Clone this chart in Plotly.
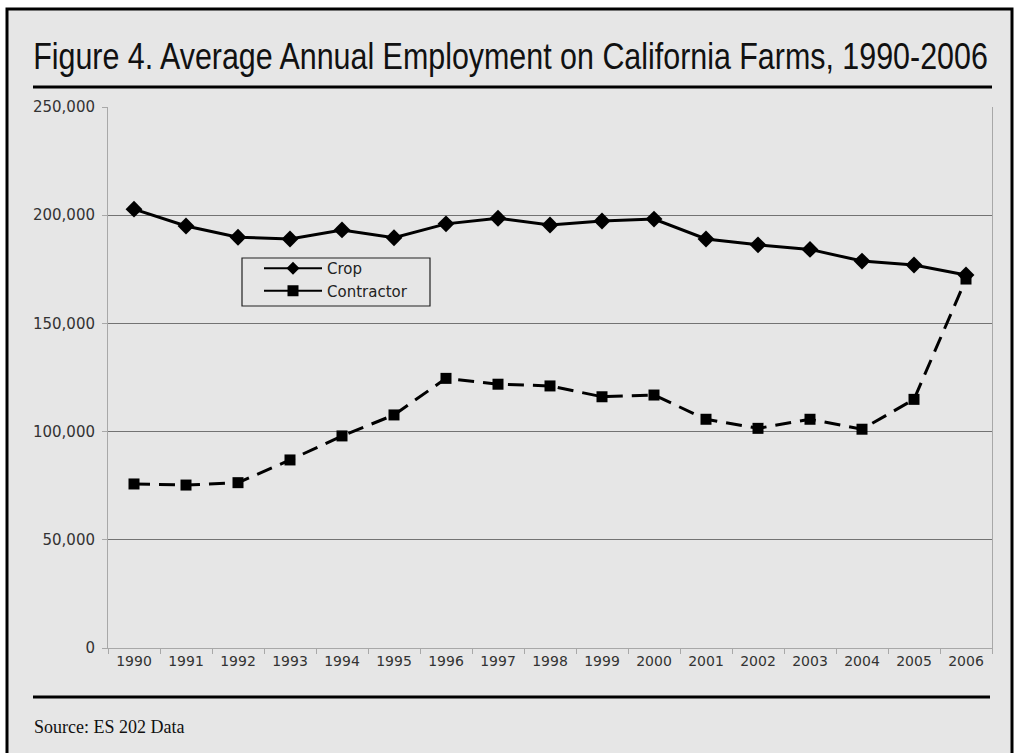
import plotly.graph_objects as go

years = [str(y) for y in range(1990, 2007)]
crop = [202800, 195000, 189800, 189000, 193200, 189600, 196000, 198600, 195500,
        197300, 198200, 189000, 186300, 184200, 178800, 177000, 172400]
contractor = [75800, 75300, 76400, 86900, 98000, 107700, 124600, 121900, 121100,
              116100, 116900, 105700, 101500, 105700, 101100, 114900, 170500]
y_ticks = [0, 50000, 100000, 150000, 200000, 250000]
y_tick_text = ["0", "50,000", "100,000", "150,000", "200,000", "250,000"]

W, H = 1015, 753
L, R, T, B = 108, 992, 107, 648
PW, PH = R - L, B - T


def px(x):
    return (x - L) / PW


def py(y):
    return (B - y) / PH


BG = "#e6e6e6"
fig = go.Figure()
fig.add_trace(go.Scatter(x=years, y=crop, mode="lines+markers", name="Crop",
                         showlegend=False,
                         line=dict(color="black", width=3),
                         marker=dict(symbol="diamond", size=13, color="black")))
fig.add_trace(go.Scatter(x=years, y=contractor, mode="lines+markers", name="Contractor",
                         showlegend=False,
                         line=dict(color="black", width=3, dash="16px,9px"),
                         marker=dict(symbol="square", size=11, color="black")))
# legend entries (solid samples as in the original)
fig.add_trace(go.Scatter(x=[None], y=[None], mode="lines+markers", name="Crop",
                         line=dict(color="black", width=2),
                         marker=dict(symbol="diamond", size=10, color="black")))
fig.add_trace(go.Scatter(x=[None], y=[None], mode="lines+markers", name="Contractor",
                         line=dict(color="black", width=2),
                         marker=dict(symbol="square", size=11, color="black")))

shapes = [
    dict(type="rect", xref="paper", yref="paper", layer="below",
         x0=px(7), x1=px(1012), y0=py(9), y1=py(770),
         fillcolor=BG, line=dict(color="black", width=3)),
    dict(type="line", xref="paper", yref="paper",
         x0=px(33), x1=px(992), y0=py(87), y1=py(87),
         line=dict(color="black", width=3)),
    dict(type="line", xref="paper", yref="paper",
         x0=px(33), x1=px(990), y0=py(697), y1=py(697),
         line=dict(color="black", width=3)),
    dict(type="rect", xref="paper", yref="paper", layer="above",
         x0=px(242), x1=px(430), y0=py(258), y1=py(306),
         fillcolor=BG, line=dict(color="#222222", width=1.2)),
]

TITLE = "Figure 4. Average Annual Employment on California Farms, 1990-2006"
annotations = [
    dict(text=TITLE,
         xref="paper", yref="paper", x=px(31), y=py(57), xanchor="left", yanchor="middle",
         showarrow=False,
         font=dict(family="Liberation Sans, Arial, sans-serif", size=37, color="#111111")),
    dict(text="Source: ES 202 Data", xref="paper", yref="paper",
         x=px(32), y=py(727), xanchor="left", yanchor="middle", showarrow=False,
         font=dict(family="Liberation Serif, Times New Roman, serif", size=18, color="#111111")),
]

fig.update_layout(
    width=W, height=H,
    margin=dict(l=L, r=W - R, t=T, b=H - B, pad=0),
    paper_bgcolor="white", plot_bgcolor=BG,
    shapes=shapes, annotations=annotations,
    font=dict(family="DejaVu Sans, Verdana, sans-serif", size=14, color="#333333"),
    showlegend=True,
    legend=dict(x=px(259), y=py(252), xanchor="left", yanchor="top",
                bgcolor="rgba(0,0,0,0)", borderwidth=0,
                font=dict(size=15, color="#222222"), itemwidth=58,
                tracegroupgap=0),
    xaxis=dict(type="category", range=[-0.5, 16.5], showgrid=False,
               showline=True, linecolor="#a8a8a8", linewidth=1,
               ticks="outside", tickson="boundaries", ticklen=5, tickcolor="#a8a8a8",
               tickfont=dict(size=14, color="#333333"), zeroline=False),
    yaxis=dict(range=[0, 250000], tickvals=y_ticks, ticktext=y_tick_text,
               showgrid=True, gridcolor="#737373", gridwidth=1,
               showline=True, linecolor="#a8a8a8", linewidth=1, mirror=True,
               ticks="outside", ticklen=5, tickcolor="#a8a8a8",
               ticklabelstandoff=4,
               tickfont=dict(size=15, color="#333333"), zeroline=False),
)

# The original title is set in a condensed face; fit the real text to its width.
post = """
var gd = document.getElementById('{plot_id}');
function fitTitle(){
  gd.querySelectorAll('.annotation-text').forEach(function(t){
    if (t.textContent.indexOf('Figure 4') === 0) {
      t.removeAttribute('transform');
      var bb = t.getBBox();
      var s = 955 / bb.width;
      t.setAttribute('transform', 'translate(' + bb.x + ',0) scale(' + s + ',1) translate(' + (-bb.x) + ',0)');
    }
  });
}
fitTitle();
"""

fig.write_html("out.html", post_script=post)
